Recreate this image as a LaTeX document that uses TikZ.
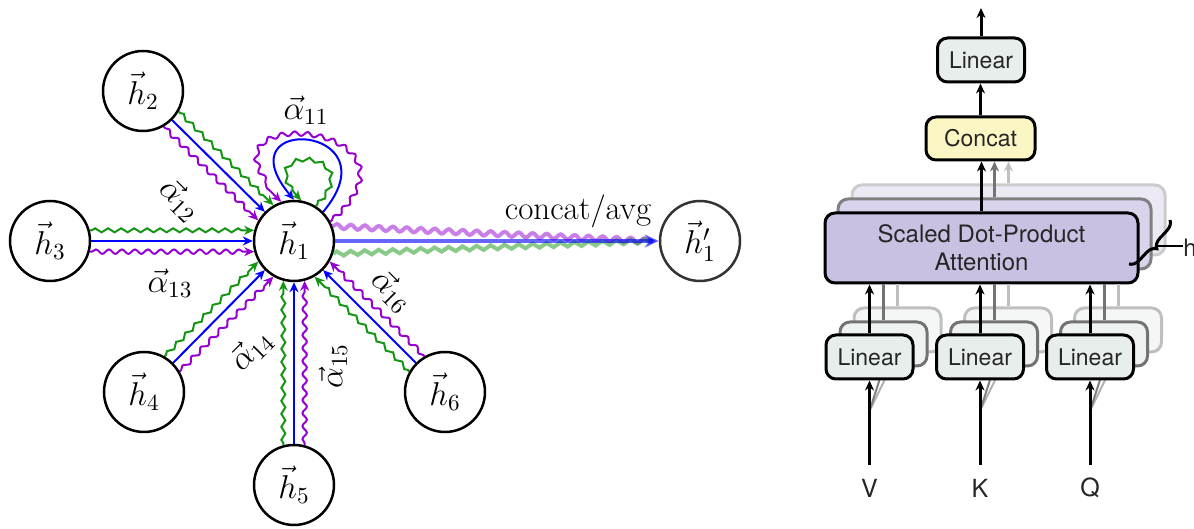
\documentclass[tikz,border=0pt]{standalone}
\usepackage{fix-cm}
\usepackage{fontspec}
\newfontfamily\helv{TeX Gyre Heros}
\usetikzlibrary{arrows.meta,decorations.pathmorphing,decorations.pathreplacing,calc}
\definecolor{gcol}{RGB}{20,150,20}
\definecolor{bcol}{RGB}{0,0,255}
\definecolor{pcol}{RGB}{150,0,210}
\definecolor{linfill}{RGB}{232,238,236}
\definecolor{catfill}{RGB}{252,246,196}
\definecolor{attfill}{RGB}{201,192,226}
\begin{document}
\begin{tikzpicture}[x=0.5pt,y=0.5pt,
  hnode/.style={circle,draw,line width=1.25pt,minimum size=40pt,inner sep=0pt,font=\fontsize{16.5}{20}\selectfont},
  tipc/.style={-{Stealth[length=5pt,width=4.5pt]}},
  garr/.style={tipc,gcol,line width=1pt,decorate,decoration={zigzag,amplitude=1pt,segment length=6.5pt,pre length=1pt,post length=5pt}},
  barr/.style={tipc,bcol,line width=1pt},
  parr/.style={tipc,pcol,line width=1pt,decorate,decoration={snake,amplitude=1.1pt,segment length=6.5pt,pre length=1pt,post length=5pt}},
  lab/.style={font=\fontsize{16.5}{20}\selectfont,inner sep=0pt},
  box/.style={draw,line width=1.5pt,rounded corners=5pt,font=\helv\fontsize{11.5}{14}\selectfont,text=black!85,inner sep=0pt,align=center},
  linbox/.style={box,fill=linfill,minimum width=43.5pt,minimum height=22pt},
  catbox/.style={box,fill=catfill,minimum width=54.5pt,minimum height=21.5pt},
  attbox/.style={box,fill=attfill,minimum width=156.5pt,minimum height=35pt,font=\helv\fontsize{12}{14}\selectfont},
  arr/.style={-{Stealth[length=5pt,width=4.5pt]},line width=1.5pt},
  sans/.style={font=\helv\fontsize{11.5}{14}\selectfont,text=black!85,inner sep=0pt}
]
\useasboundingbox (0,0) rectangle (1194,529);

% ---------- left: graph attention ----------
\node[hnode] (h1) at (294,288) {$\vec{h}_1$};
\node[hnode] (h2) at (143,438) {$\vec{h}_2$};
\node[hnode] (h3) at (50,288) {$\vec{h}_3$};
\node[hnode] (h4) at (144,137) {$\vec{h}_4$};
\node[hnode] (h5) at (294,44) {$\vec{h}_5$};
\node[hnode] (h6) at (445,137) {$\vec{h}_6$};
\node[hnode,draw=black!80] (h1p) at (700,288) {$\vec{h}'_1$};

\draw[garr] (h2.-30) -- (h1.120);
\draw[barr] (h2.-45) -- (h1.135);
\draw[parr] (h2.-60) -- (h1.150);

\draw[garr] (h3.15) -- (h1.165);
\draw[barr] (h3.0) -- (h1.180);
\draw[parr] (h3.-15) -- (h1.195);

\draw[garr] (h4.60) -- (h1.210);
\draw[barr] (h4.45) -- (h1.225);
\draw[parr] (h4.30) -- (h1.240);

\draw[garr] (h5.105) -- (h1.255);
\draw[barr] (h5.90) -- (h1.270);
\draw[parr] (h5.75) -- (h1.285);

\draw[garr] (h6.150) -- (h1.300);
\draw[barr] (h6.135) -- (h1.315);
\draw[parr] (h6.120) -- (h1.330);

% self loops
\draw[parr] (h1.28) to[out=42,in=138,distance=75pt] (h1.108);
\draw[barr] (h1.45) to[out=50,in=130,distance=57pt] (h1.90);
\draw[garr] (h1.58) to[out=45,in=135,distance=41pt] (h1.80);

% output
\draw[pcol,opacity=0.5,line width=2pt,decorate,decoration={snake,amplitude=1.2pt,segment length=7pt}] (h1.21) -- ($(h1p.west)+(-6,0)$);
\draw[gcol,opacity=0.5,line width=2pt,decorate,decoration={zigzag,amplitude=1.1pt,segment length=7pt}] (h1.-18) -- ($(h1p.west)+(-6,0)$);
\draw[bcol,opacity=0.6,line width=2pt,-{Stealth[length=7pt,width=6.5pt]}] (h1.east) -- (h1p.west);

% labels
\node[lab] (a11) at (306,419) {$\vec{\alpha}_{11}$};
\node[lab,rotate=-45] (a12) at (180,329) {$\vec{\alpha}_{12}$};
\node[lab] (a13) at (170,246) {$\vec{\alpha}_{13}$};
\node[lab,rotate=45] (a14) at (251,179) {$\vec{\alpha}_{14}$};
\node[lab,rotate=90] (a15) at (333,163) {$\vec{\alpha}_{15}$};
\node[lab,rotate=-45] (a16) at (392,238) {$\vec{\alpha}_{16}$};
\node[lab] (cl) at (578,318) {concat/avg};

% ---------- right: multi-head attention ----------
\node[attbox,draw=black!20,fill=attfill!35] (at3) at (1008.5,309) {};
\node[attbox,draw=black!50,fill=attfill!70] (at2) at (994.5,295) {};
\node[catbox] (cat) at (980.5,390.5) {Concat};
\draw[arr,black!25] (at3.north) -- (at3.north |- cat.south);
\draw[arr,black!55] (at2.north) -- (at2.north |- cat.south);
\node[attbox] (at1) at (981.5,281) {Scaled Dot-Product\\Attention};
\draw[arr] (at1.north) -- (at1.north |- cat.south);

\node[linbox] (lt) at (981,469) {Linear};
\coordinate (outp) at (981,521);
\draw[arr] (cat.north) -- (cat.north |- lt.south);
\draw[arr] (lt.north) -- (outp);

\foreach \nm/\xx/\lt in {v/869.5/V,k/980/K,q/1090/Q}{
  \node[linbox,draw=black!25,fill=linfill!45] (\nm3) at (\xx+28,199) {};
  \node[linbox,draw=black!55,fill=linfill!75] (\nm2) at (\xx+14,185) {};
  \draw[black!30,line width=1pt] (\xx,118) -- (\nm3.south);
  \draw[black!50,line width=1pt] (\xx,118) -- (\nm2.south);
  \draw[black!25,line width=1.5pt] (\nm3.north) -- (\nm3.north |- at1.south);
  \draw[black!55,line width=1.5pt] (\nm2.north) -- (\nm2.north |- at1.south);
  \node[linbox] (\nm1) at (\xx,172) {Linear};
  \draw[arr] (\nm1.north) -- (\nm1.north |- at1.south);
  \node[sans,font=\helv\fontsize{12.5}{14}\selectfont] (\nm l) at (\xx,41) {\lt};
  \coordinate (\nm in) at (\xx,64);
  \draw[arr] (\nm in) -- (\nm1.south);
}

\draw[decorate,decoration={brace,amplitude=5pt},line width=1.5pt] (1170,309) -- (1129,265);
\coordinate (btip) at (1158,283);
\node[sans,anchor=west,font=\helv\fontsize{12}{14}\selectfont] (hl) at (1183,281) {h};
\draw[line width=1pt] (btip) -- (btip -| hl.west);
\end{tikzpicture}
\end{document}
